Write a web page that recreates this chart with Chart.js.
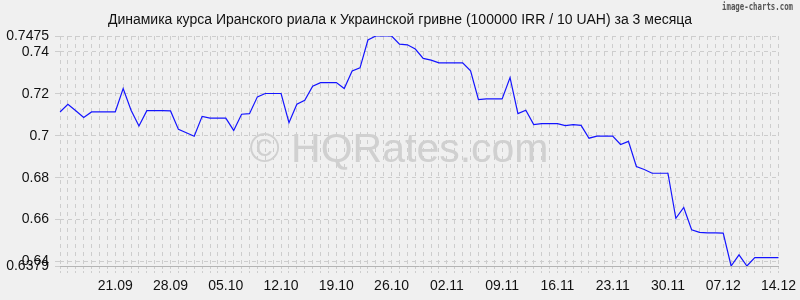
<!DOCTYPE html>
<html>
<head>
<meta charset="utf-8">
<script src="https://cdn.jsdelivr.net/npm/chart.js@4.4.1/dist/chart.umd.min.js"></script>
<style>
  html, body { margin: 0; padding: 0; background: #f0f0f0; }
  #wrap { width: 800px; height: 300px; }
</style>
</head>
<body>
<div id="wrap"><canvas id="chart" width="800" height="300"></canvas></div>
<script>
// Chart texts
const chartTitle = 'Динамика курса Иранского риала к Украинской гривне (100000 IRR / 10 UAH) за 3 месяца';
const watermark = '© HQRates.com';
const credit = 'image-charts.com';

// Daily dates, 14.09 - 14.12
const dates = [];
const firstDay = new Date(2020, 8, 14);
for (let i = 0; i < 92; i++) {
  const d = new Date(firstDay.getFullYear(), firstDay.getMonth(), firstDay.getDate() + i);
  dates.push(String(d.getDate()).padStart(2, '0') + '.' + String(d.getMonth() + 1).padStart(2, '0'));
}

// Labels shown on the x axis
const xTickLabels = ['21.09', '28.09', '05.10', '12.10', '19.10', '26.10', '02.11',
  '09.11', '16.11', '23.11', '30.11', '07.12', '14.12'];

// Ticks on the y axis
const yTicks = [0.6379, 0.64, 0.66, 0.68, 0.7, 0.72, 0.74, 0.7475];

// Rate, 100000 IRR / 10 UAH
const rates = [
  0.7113, 0.7150, 0.7119, 0.7087, 0.7113, 0.7113, 0.7113, 0.7113, 0.7225, 0.7121,
  0.7046, 0.7119, 0.7119, 0.7119, 0.7118, 0.7030, 0.7014, 0.6997, 0.7092, 0.7084,
  0.7084, 0.7084, 0.7025, 0.7102, 0.7105, 0.7185, 0.7201, 0.7201, 0.7201, 0.7062,
  0.7150, 0.7169, 0.7236, 0.7253, 0.7253, 0.7253, 0.7225, 0.7308, 0.7323, 0.7456,
  0.7475, 0.7475, 0.7475, 0.7436, 0.7433, 0.7413, 0.7368, 0.7360, 0.7347, 0.7347,
  0.7347, 0.7347, 0.7309, 0.7172, 0.7175, 0.7175, 0.7175, 0.7277, 0.7105, 0.7121,
  0.7053, 0.7057, 0.7057, 0.7057, 0.7048, 0.7053, 0.7049, 0.6988, 0.6998, 0.6998,
  0.6998, 0.6958, 0.6973, 0.6853, 0.6839, 0.6821, 0.6821, 0.6821, 0.6606, 0.6658,
  0.6552, 0.6539, 0.6537, 0.6537, 0.6536, 0.6379, 0.6432, 0.6379, 0.6419, 0.6419,
  0.6419, 0.6419
];

const gridColor = '#cdcdcd';
const font = { family: '"Liberation Sans", Arial, sans-serif', size: 14 };

// Title, watermark and credit text
const decorPlugin = {
  id: 'decor',
  beforeDatasetsDraw(chart) {
    const ctx = chart.ctx;
    ctx.save();
    ctx.fillStyle = '#d0d0d0';
    ctx.font = '41px "Liberation Sans", Arial, sans-serif';
    ctx.textAlign = 'center';
    ctx.textBaseline = 'alphabetic';
    ctx.fillText(watermark, 399, 162);
    ctx.restore();
  },
  afterDraw(chart) {
    const ctx = chart.ctx;
    ctx.save();
    ctx.fillStyle = '#111';
    ctx.font = '14px "Liberation Sans", Arial, sans-serif';
    ctx.textAlign = 'center';
    ctx.textBaseline = 'alphabetic';
    ctx.fillText(chartTitle, 400, 24);

    // narrow credit text in the corner
    ctx.fillStyle = '#555';
    ctx.font = 'bold 11px "DejaVu Sans Mono", monospace';
    const w = ctx.measureText(credit).width;
    ctx.translate(722, 10);
    ctx.scale(71 / w, 1);
    ctx.textAlign = 'left';
    ctx.fillText(credit, 0, 0);
    ctx.restore();
  }
};

const ctx = document.getElementById('chart').getContext('2d');
new Chart(ctx, {
  type: 'line',
  data: {
    labels: dates,
    datasets: [{
      data: rates,
      borderColor: '#1414ff',
      borderWidth: 1.2,
      pointRadius: 0,
      tension: 0,
      fill: false
    }]
  },
  options: {
    responsive: false,
    animation: false,
    layout: { padding: { top: 36, right: 21, bottom: 0, left: 0 } },
    plugins: {
      legend: { display: false },
      tooltip: { enabled: false },
      title: { display: false }
    },
    scales: {
      x: {
        offset: false,
        afterFit(scale) { scale.height = 34; },
        grid: {
          color: gridColor,
          tickColor: gridColor,
          tickLength: 8,
          tickBorderDash: [2, 2]
        },
        border: { display: true, color: '#b4b4b4', dash: [4, 4] },
        ticks: {
          autoSkip: false,
          maxRotation: 0,
          padding: 4,
          color: '#111',
          font: font,
          callback: function(value) {
            const l = this.getLabelForValue(value);
            return xTickLabels.includes(l) ? l : '';
          }
        }
      },
      y: {
        min: 0.6379,
        max: 0.7475,
        afterFit(scale) { scale.width = 60; },
        afterBuildTicks(scale) {
          scale.ticks = yTicks.map(v => ({ value: v }));
        },
        grid: {
          color: gridColor,
          tickColor: gridColor,
          tickLength: 5
        },
        border: { display: false, dash: [4, 4] },
        ticks: {
          autoSkip: false,
          padding: 6,
          color: '#111',
          font: font,
          callback: value => String(value)
        }
      }
    }
  },
  plugins: [decorPlugin]
});
</script>
</body>
</html>
